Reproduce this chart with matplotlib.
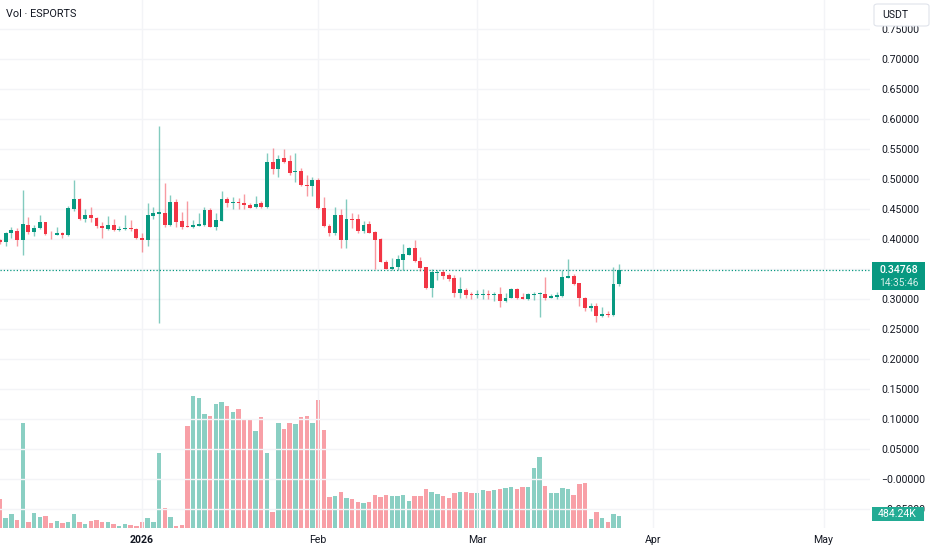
import numpy as np
import pandas as pd
import matplotlib
matplotlib.use("Agg")
import matplotlib.pyplot as plt
import matplotlib.dates as mdates
from matplotlib.patches import Rectangle, FancyBboxPatch

plt.rcParams['font.family'] = ['Roboto', 'DejaVu Sans']

# daily candles, Dec 7 2025 .. Mar 26 2026
dates = pd.date_range('2025-12-07', periods=110, freq='D')

opens = [0.398, 0.3955, 0.4094, 0.4139, 0.3983, 0.4233, 0.4117, 0.4178, 0.4278, 0.4089,
         0.4072, 0.4094, 0.4067, 0.4506, 0.4667, 0.4333, 0.4406, 0.4350, 0.4222, 0.4172,
         0.4228, 0.4150, 0.4161, 0.4189, 0.4167, 0.4022, 0.3983, 0.4383, 0.4422, 0.4439,
         0.4228, 0.4617, 0.4300, 0.4217, 0.4206, 0.4222, 0.4228, 0.4483, 0.4206, 0.4306,
         0.4661, 0.4600, 0.4622, 0.4600, 0.4572, 0.4528, 0.4594, 0.4528, 0.5283, 0.5167,
         0.5344, 0.5294, 0.5111, 0.5133, 0.4906, 0.4883, 0.4983, 0.4511, 0.4217, 0.4094,
         0.4400, 0.3983, 0.4333, 0.4328, 0.4139, 0.4244, 0.4111, 0.3994, 0.3622, 0.3500,
         0.3528, 0.3650, 0.3739, 0.3844, 0.3633, 0.3528, 0.3178, 0.3439, 0.3456, 0.3394,
         0.3344, 0.3106, 0.3150, 0.3078, 0.3067, 0.3067, 0.3083, 0.3067, 0.3078, 0.2967,
         0.3022, 0.3161, 0.3028, 0.3000, 0.3072, 0.3078, 0.3089, 0.3022, 0.3028, 0.3050,
         0.3356, 0.3383, 0.3261, 0.3011, 0.2844, 0.2889, 0.2717, 0.2744, 0.2733, 0.3250]

highs = [0.400, 0.4122, 0.4206, 0.4178, 0.4817, 0.4372, 0.4233, 0.4400, 0.4289, 0.4133,
         0.4206, 0.4122, 0.4550, 0.4983, 0.4689, 0.4500, 0.4528, 0.4372, 0.4289, 0.4383,
         0.4333, 0.4217, 0.4406, 0.4317, 0.4178, 0.4094, 0.4606, 0.4528, 0.5883, 0.4928,
         0.4728, 0.4661, 0.4456, 0.4633, 0.4322, 0.4439, 0.4539, 0.4511, 0.4439, 0.4800,
         0.4706, 0.4694, 0.4683, 0.4750, 0.4594, 0.4717, 0.4633, 0.5428, 0.5517, 0.5406,
         0.5494, 0.5406, 0.5439, 0.5178, 0.5067, 0.5039, 0.5011, 0.4694, 0.4250, 0.4528,
         0.4494, 0.4667, 0.4428, 0.4417, 0.4306, 0.4300, 0.4139, 0.4011, 0.3650, 0.3683,
         0.3728, 0.3911, 0.3872, 0.3983, 0.3706, 0.3539, 0.3494, 0.3483, 0.3483, 0.3428,
         0.3400, 0.3372, 0.3189, 0.3122, 0.3150, 0.3161, 0.3150, 0.3122, 0.3206, 0.3106,
         0.3178, 0.3189, 0.3094, 0.3106, 0.3122, 0.3117, 0.3372, 0.3078, 0.3117, 0.3483,
         0.3667, 0.3417, 0.3272, 0.3039, 0.2939, 0.2928, 0.2872, 0.2800, 0.3539, 0.3583]

lows = [0.392, 0.3883, 0.4011, 0.3883, 0.3733, 0.4078, 0.4056, 0.4167, 0.4067, 0.3994,
        0.4067, 0.4022, 0.4056, 0.4472, 0.4322, 0.4289, 0.4289, 0.4178, 0.4022, 0.4150,
        0.4139, 0.4139, 0.4150, 0.4139, 0.4000, 0.3789, 0.3889, 0.4339, 0.2606, 0.4206,
        0.4217, 0.4206, 0.4172, 0.4194, 0.4189, 0.4217, 0.4217, 0.4194, 0.4150, 0.4294,
        0.4528, 0.4506, 0.4506, 0.4494, 0.4517, 0.4517, 0.4517, 0.4517, 0.5083, 0.5039,
        0.5261, 0.5072, 0.4956, 0.4883, 0.4722, 0.4717, 0.4500, 0.4194, 0.4050, 0.4067,
        0.3844, 0.3856, 0.4189, 0.4106, 0.4106, 0.4094, 0.3494, 0.3611, 0.3494, 0.3483,
        0.3483, 0.3483, 0.3728, 0.3622, 0.3472, 0.3167, 0.3028, 0.3317, 0.3328, 0.3306,
        0.3039, 0.3011, 0.3011, 0.2999, 0.3011, 0.3006, 0.2999, 0.2972, 0.2872, 0.2956,
        0.3011, 0.3006, 0.2994, 0.2983, 0.2983, 0.2706, 0.2983, 0.3011, 0.2994, 0.3039,
        0.3344, 0.3233, 0.2883, 0.2806, 0.2806, 0.2622, 0.2706, 0.2706, 0.2722, 0.3222]

closes = [0.395, 0.4094, 0.4144, 0.3983, 0.4244, 0.4117, 0.4189, 0.4278, 0.4078, 0.4078,
          0.4094, 0.4072, 0.4522, 0.4667, 0.4333, 0.4406, 0.4344, 0.4217, 0.4178, 0.4228,
          0.4150, 0.4167, 0.4189, 0.4161, 0.4011, 0.3983, 0.4394, 0.4439, 0.4444, 0.4233,
          0.4617, 0.4289, 0.4206, 0.4206, 0.4228, 0.4250, 0.4483, 0.4206, 0.4317, 0.4661,
          0.4594, 0.4622, 0.4594, 0.4567, 0.4522, 0.4589, 0.4528, 0.5283, 0.5167, 0.5333,
          0.5289, 0.5106, 0.5133, 0.4894, 0.4883, 0.4983, 0.4511, 0.4217, 0.4094, 0.4400,
          0.3983, 0.4328, 0.4317, 0.4139, 0.4233, 0.4106, 0.3983, 0.3622, 0.3500, 0.3533,
          0.3661, 0.3750, 0.3856, 0.3633, 0.3522, 0.3178, 0.3450, 0.3456, 0.3383, 0.3328,
          0.3106, 0.3161, 0.3067, 0.3067, 0.3083, 0.3083, 0.3067, 0.3083, 0.2967, 0.3022,
          0.3161, 0.3022, 0.3006, 0.3083, 0.3089, 0.3094, 0.3022, 0.3050, 0.3067, 0.3361,
          0.3389, 0.3250, 0.3011, 0.2844, 0.2889, 0.2717, 0.2750, 0.2728, 0.3250, 0.34768]

# volume in thousands
volumes = [1127, 393, 563, 314, 4140, 236, 590, 432, 485, 197,
           275, 197, 249, 563, 223, 170, 275, 314, 249, 223,
           144, 79, 170, 105, 79, 236, 380, 249, 2948, 799,
           432, 79, 118, 4009, 5175, 5122, 4480, 4402, 4860, 4952,
           4808, 4559, 4677, 4284, 4258, 3825, 4375, 2961, 642, 4140,
           3904, 4113, 4087, 4375, 4402, 4140, 5017, 3851, 1218, 1245,
           1415, 1179, 1127, 1022, 996, 1022, 1310, 1231, 1310, 1258,
           1245, 1310, 1074, 1258, 1258, 1520, 1415, 1336, 1258, 1179,
           1362, 1415, 1415, 1362, 1389, 1493, 1467, 1493, 1520, 1572,
           1611, 1520, 1598, 1611, 2371, 2777, 1651, 1389, 1389, 1572,
           1520, 1310, 1729, 1782, 367, 642, 393, 223, 550, 484.24]

month_ticks = pd.to_datetime(['2026-01-01', '2026-02-01', '2026-03-01', '2026-04-01', '2026-05-01'])
month_labels = ['2026', 'Feb', 'Mar', 'Apr', 'May']
price_ticks = np.round(np.arange(-0.05, 0.7501, 0.05), 2)

UP = '#089981'
DOWN = '#f23645'
TXT = '#131722'
GRID = '#f3f4f7'

W, H = 932, 550
fig = plt.figure(figsize=(W / 100, H / 100), dpi=100)
plot_right = 870
plot_bottom = 528
ax = fig.add_axes([0, 1 - plot_bottom / H, plot_right / W, plot_bottom / H])

x = mdates.date2num(dates)
o = np.array(opens); h = np.array(highs); l = np.array(lows); c = np.array(closes)
up = c >= o
cols = np.where(up, UP, DOWN)

# volume overlay underneath, 39.3K per pixel
vax = ax.twinx()
vax.set_ylim(0, plot_bottom * 39.3)
vax.bar(x, volumes, width=0.78, color=cols, alpha=0.47, linewidth=0, zorder=1)
vax.set_yticks([])
for s in vax.spines.values():
    s.set_visible(False)
ax.set_zorder(vax.get_zorder() + 1)
ax.patch.set_visible(False)

# price axis: 600 px per unit, 0 at y=479
ax.set_ylim(-(plot_bottom - 479) / 600, 479 / 600)
px_day = 5.68
ax.set_xlim(x[0], x[0] + plot_right / px_day)
vax.set_xlim(ax.get_xlim())

ax.vlines(x, l, h, colors=cols, linewidth=1.0, alpha=0.5, zorder=3)
body_lo = np.minimum(o, c)
body_h = np.maximum(np.abs(c - o), 0.0012)
ax.bar(x, body_h, bottom=body_lo, width=0.68, color=cols, zorder=4, linewidth=0)

ax.axhline(closes[-1], color=UP, linestyle=(0, (1, 1.6)), linewidth=0.9, zorder=2)

ax.yaxis.tick_right()
ax.set_yticks(price_ticks)
ax.set_yticklabels([('\u2212%.5f' % abs(t)) if t <= 0 else '%.5f' % t for t in price_ticks])
ax.tick_params(axis='y', which='both', left=False, right=False, labelleft=False,
               labelright=True, length=0, pad=8, labelsize=7.6, labelcolor=TXT)
for lab in ax.get_yticklabels():
    lab.set_horizontalalignment('left')
ax.grid(axis='y', color=GRID, linewidth=1.0, zorder=0)

ax.set_xticks(mdates.date2num(month_ticks))
ax.set_xticklabels(month_labels)
ax.tick_params(axis='x', length=0, pad=5, labelsize=7.6, labelcolor=TXT)
ax.get_xticklabels()[0].set_fontweight('bold')
ax.grid(axis='x', color=GRID, linewidth=1.0, zorder=0)
for s in ax.spines.values():
    s.set_visible(False)


def fig_box(x0, y0, x1, y1, color, edge=None, rounded=False):
    if rounded:
        p = FancyBboxPatch((x0 / W, 1 - y1 / H), (x1 - x0) / W, (y1 - y0) / H,
                           boxstyle='round,pad=0,rounding_size=0.004',
                           transform=fig.transFigure, facecolor=color,
                           edgecolor=edge, linewidth=0.8, zorder=5)
    else:
        p = Rectangle((x0 / W, 1 - y1 / H), (x1 - x0) / W, (y1 - y0) / H,
                      transform=fig.transFigure, facecolor=color,
                      edgecolor=edge if edge else 'none', linewidth=0.8, zorder=5)
    fig.add_artist(p)


def fig_txt(xp, yp, s, **kw):
    fig.text(xp / W, 1 - yp / H, s, zorder=6, **kw)


# currency box
fig_box(874, 4, 929, 26, 'white', edge='#e0e3eb', rounded=True)
fig_txt(882, 15, 'USDT', fontsize=7.6, color=TXT, va='center', ha='left')

# last price label
fig_box(872, 262, 925, 290, UP)
fig_txt(879, 270, '%.5f' % closes[-1], fontsize=7.6, color='white', va='center', ha='left',
        fontweight='medium')
fig_txt(879, 282.5, '14:35:46', fontsize=7.3, color='#d6f0ea', va='center', ha='left')

# last volume label
fig_box(872, 507, 924, 521, '#22ab94')
fig_txt(878, 514, '%.2fK' % volumes[-1], fontsize=7.6, color='white', va='center', ha='left')

fig_txt(6, 14, 'Vol \u00b7 ESPORTS', fontsize=7.8, color=TXT, va='center', ha='left')

fig.savefig('out.png', dpi=100, facecolor='white')
